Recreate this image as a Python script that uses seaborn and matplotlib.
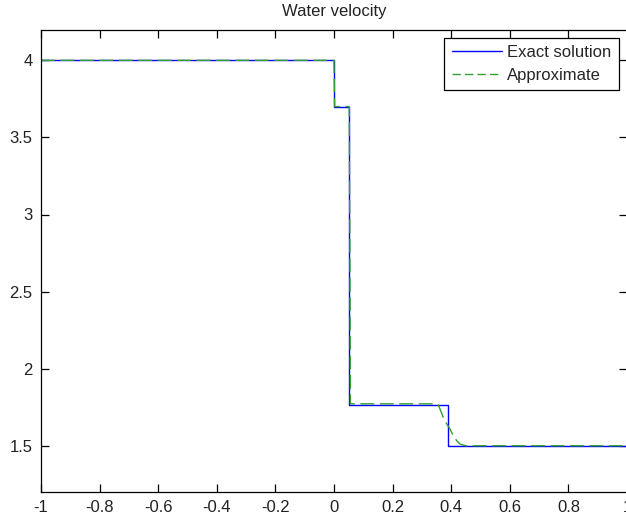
import matplotlib
matplotlib.use("Agg")
import matplotlib.pyplot as plt
import seaborn as sns
import pandas as pd

# Exact Riemann solution for the water velocity (piecewise constant)
x_exact = [-1.0, 0.0, 0.0, 0.051, 0.051, 0.389, 0.389, 1.0]
u_exact = [4.0, 4.0, 3.70, 3.70, 1.766, 1.766, 1.5, 1.5]

# Numerical approximation (smeared near the right-moving front)
x_approx = [-1.0, 0.0, 0.002, 0.052, 0.054, 0.056, 0.340, 0.356, 0.373,
            0.385, 0.396, 0.407, 0.419, 0.430, 0.440, 0.450, 1.0]
u_approx = [4.0, 4.0, 3.70, 3.70, 2.90, 1.772, 1.772, 1.765, 1.684,
            1.641, 1.608, 1.565, 1.532, 1.511, 1.505, 1.5, 1.5]

x_ticks = [-1, -0.8, -0.6, -0.4, -0.2, 0, 0.2, 0.4, 0.6, 0.8, 1]
x_tick_labels = ["-1", "-0.8", "-0.6", "-0.4", "-0.2", "0", "0.2", "0.4", "0.6", "0.8", "1"]
y_ticks = [1.5, 2, 2.5, 3, 3.5, 4]
y_tick_labels = ["1.5", "2", "2.5", "3", "3.5", "4"]

exact_df = pd.DataFrame({"x": x_exact, "u": u_exact})
approx_df = pd.DataFrame({"x": x_approx, "u": u_approx})

sns.set_style("ticks")
plt.rcParams["font.family"] = ["Liberation Sans", "DejaVu Sans"]
plt.rcParams["lines.scale_dashes"] = True

W, H = 626, 521
fig = plt.figure(figsize=(W / 100, H / 100), dpi=100)
left, right, top, bottom = 41, 627, 29.5, 492
ax = fig.add_axes([left / W, (H - bottom) / H, (right - left) / W, (bottom - top) / H])

sns.lineplot(data=exact_df, x="x", y="u", sort=False, estimator=None,
             color="#0000ff", linewidth=1.0, ax=ax, label="Exact solution")
sns.lineplot(data=approx_df, x="x", y="u", sort=False, estimator=None,
             color="#30a030", linewidth=1.0, ax=ax, label="Approximate",
             dashes=False)
ax.lines[-1].set_dashes((10, 4))

ax.set_xlim(-1, 1)
ax.set_ylim(1.2, 4.2)
ax.set_xticks(x_ticks)
ax.set_xticklabels(x_tick_labels)
ax.set_yticks(y_ticks)
ax.set_yticklabels(y_tick_labels)
ax.set_xlabel("")
ax.set_ylabel("")
ax.set_title("Water velocity", fontsize=12, pad=10, color="#222222")

for s in ax.spines.values():
    s.set_visible(True)
    s.set_linewidth(0.9)
    s.set_color("black")
ax.tick_params(direction="in", length=6, width=0.9, labelsize=12, pad=6,
               top=True, right=True, colors="black", labelcolor="#222222")

leg = ax.legend(loc="upper right", fontsize=12, frameon=True, fancybox=False,
                framealpha=1, edgecolor="black", handlelength=3.0,
                handletextpad=0.3, borderpad=0.45, labelspacing=0.45,
                borderaxespad=0.5)
leg.get_frame().set_linewidth(0.9)
leg.get_lines()[1].set_dashes((6, 3))

fig.savefig("out.png", dpi=100)
